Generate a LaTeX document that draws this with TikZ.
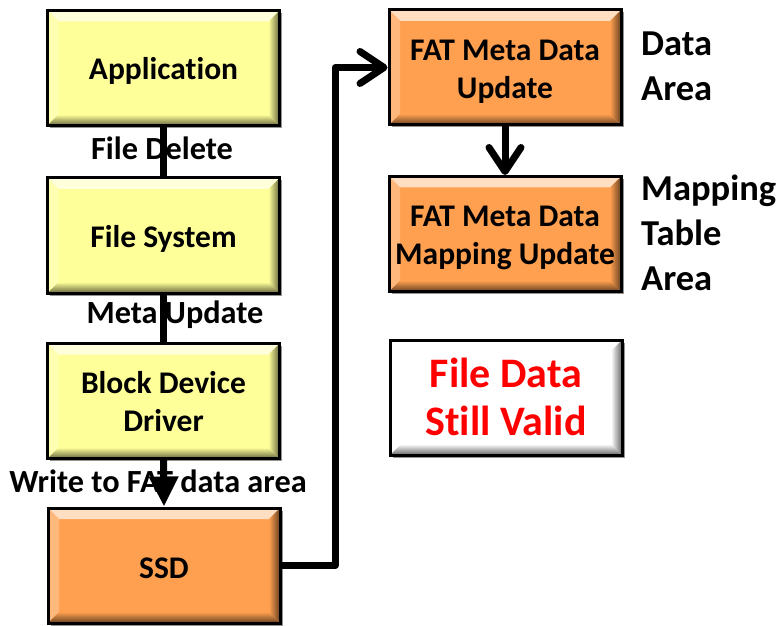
\documentclass[tikz,border=0pt]{standalone}
\usepackage{fontspec}
\setmainfont{Carlito}[Ligatures={NoCommon,NoContextual}]
\newcommand{\nolig}{\kern0pt }
\usetikzlibrary{arrows.meta,calc,shadows}
\definecolor{yellowbox}{RGB}{255,255,153}
\definecolor{orangebox}{RGB}{255,160,80}
\definecolor{whitebox}{RGB}{255,255,255}
\definecolor{validred}{RGB}{255,0,0}
\tikzset{
  bevel/.style={draw=black, line width=3pt, fill=#1,
    minimum width=232pt, minimum height=115pt, inner sep=0pt,
    drop shadow={shadow xshift=2.5pt, shadow yshift=-2.5pt, fill=black!60, opacity=0.7},
    path picture={
      \coordinate (bnw) at (path picture bounding box.north west);
      \coordinate (bne) at (path picture bounding box.north east);
      \coordinate (bsw) at (path picture bounding box.south west);
      \coordinate (bse) at (path picture bounding box.south east);
      \fill[#1!35!white] (bnw) -- (bne) -- ($(bne)+(-11pt,-11pt)$) -- ($(bnw)+(11pt,-11pt)$) -- cycle;
      \fill[#1!75!white] (bnw) -- ($(bnw)+(11pt,-11pt)$) -- ($(bsw)+(11pt,11pt)$) -- (bsw) -- cycle;
      \shade[left color=#1, right color=#1!40!black] (bne) -- (bse) -- ($(bse)+(-11pt,11pt)$) -- ($(bne)+(-11pt,-11pt)$) -- cycle;
      \shade[top color=#1, bottom color=#1!40!black] (bsw) -- ($(bsw)+(11pt,11pt)$) -- ($(bse)+(-11pt,11pt)$) -- (bse) -- cycle;
    }},
  boxtext/.style={align=center, inner sep=0pt, font=\bfseries\fontsize{31.5}{38}\selectfont},
  validtext/.style={align=center, inner sep=0pt, text=validred, font=\bfseries\fontsize{42}{48}\selectfont},
  steplabel/.style={font=\bfseries\fontsize{32.3}{38}\selectfont, inner sep=0pt},
  arealabel/.style={font=\bfseries\fontsize{36.5}{45}\selectfont, align=left, anchor=west, inner sep=0pt},
  conn/.style={line width=7pt, draw=black},
  chevron/.style={-{Straight Barb[length=24pt,width=32pt,round]}},
  filledhead/.style={-{Triangle[length=30pt,width=28pt]}}
}
\begin{document}
\begin{tikzpicture}[x=1pt,y=1pt]
\useasboundingbox (0,0) rectangle (782,625);
% left column
\node[bevel=yellowbox] (app) at (163.5,557) {};
\node[bevel=yellowbox] (fs) at (163.5,389.5) {};
\node[bevel=yellowbox] (bdd) at (163.5,224) {};
\node[bevel=orangebox] (ssd) at (164,59.5) {};
% right column
\node[bevel=orangebox] (fat1) at (505,557.5) {};
\node[bevel=orangebox] (fat2) at (505,391) {};
\node[bevel=whitebox] (valid) at (506,227.5) {};
% box texts
\node[boxtext] (appt) at ([yshift=-3pt]app.center) {Applicat\nolig ion};
\node[boxtext] (fst) at ([yshift=-3pt]fs.center) {File System};
\node[boxtext] (bddt) at ([yshift=-1pt]bdd.center) {Block Device\\Driver};
\node[boxtext] (ssdt) at ([yshift=-3pt]ssd.center) {SSD};
\node[boxtext] (fat1t) at ([yshift=-4pt]fat1.center) {FAT Meta Data\\Update};
\node[boxtext] (fat2t) at ([yshift=-4pt]fat2.center) {FAT Meta Data\\Mapping Update};
\node[validtext] (validt) at ([yshift=0.5pt]valid.center) {File Data\\St\nolig ill Valid};
% labels
\node[steplabel] (lbl1) at (162,477) {File Delete};
\node[steplabel] (lbl2) at (175,310) {Meta Update};
\node[steplabel] (lbl3) at (158,144) {Write to FAT data area};
\node[arealabel] (area1) at (641,559) {Data\\Area};
\node[arealabel] (area2) at (641,392) {Mapping\\Table\\Area};
% connectors
\coordinate (elbowx) at (335,300);
\draw[conn] (app.south) -- (fs.north);
\draw[conn] (fs.south) -- (bdd.north);
\draw[conn, filledhead] (bdd.south) -- (ssd.north);
\draw[conn, chevron, line join=round] (ssd.east) -- (ssd.east -| elbowx) -- (fat1.west -| elbowx) -- (fat1.west);
\draw[conn, chevron] (fat1.south) -- (fat2.north);
\end{tikzpicture}
\end{document}
